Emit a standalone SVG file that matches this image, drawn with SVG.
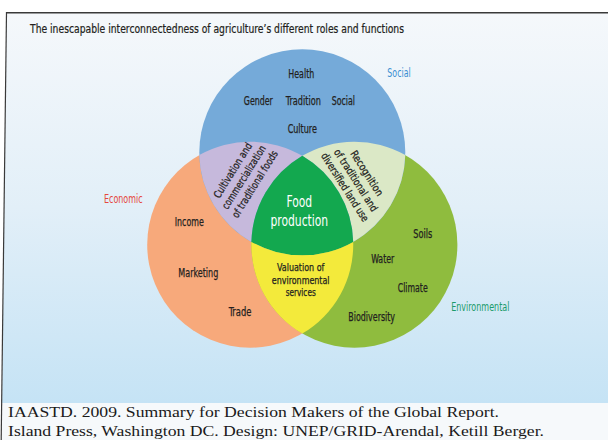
<svg xmlns="http://www.w3.org/2000/svg" width="608" height="440" viewBox="0 0 608 440">
<defs>
<linearGradient id="bg" x1="0" y1="13" x2="0" y2="403" gradientUnits="userSpaceOnUse">
<stop offset="0" stop-color="#f5f8fb"/>
<stop offset="0.5" stop-color="#e2eff8"/>
<stop offset="1" stop-color="#c5e3f5"/>
</linearGradient>
<style>
text{font-family:"Liberation Sans Narrow","DejaVu Sans Condensed","Liberation Sans",Arial,sans-serif;fill:#231f20}
.lbl{font-size:11.5px;text-anchor:middle;stroke:#231f20;stroke-width:0.25}
.mid{font-size:10.5px;text-anchor:middle;stroke:#231f20;stroke-width:0.25}
.rot{font-size:10.5px;text-anchor:middle;stroke:#231f20;stroke-width:0.25}
.key{font-size:11.5px;text-anchor:middle}
.big{font-size:15px;text-anchor:middle;fill:#ffffff}
.cap{font-family:"Liberation Serif","Times New Roman",serif;font-size:15px;fill:#1a1a1a}
.title{font-size:11.5px;stroke:#231f20;stroke-width:0.2}
</style>
</defs>
<rect x="0" y="0" width="608" height="440" fill="#ffffff"/>
<polygon points="6.5,13 608,13 608,403 2,403" fill="url(#bg)"/>
<rect x="1.5" y="403" width="606.5" height="37" fill="#f6f9fb"/>
<line x1="6" y1="12.7" x2="608" y2="12.7" stroke="#3a3a3a" stroke-width="1.4"/>
<line x1="6.5" y1="12" x2="1.2" y2="440" stroke="#3a3a3a" stroke-width="1.2"/>

<text class="title" x="30" y="32.5" textLength="374" lengthAdjust="spacingAndGlyphs">The inescapable interconnectedness of agriculture’s different roles and functions</text>

<g id="economic">
<circle cx="250.2" cy="244.7" r="103" fill="#f7a97b"/>
</g>
<g id="environmental">
<circle cx="354.4" cy="244.7" r="103" fill="#8fbc3e"/>
</g>
<g id="social">
<circle cx="302.3" cy="152.3" r="103" fill="#75aad9"/>
</g>
<g id="cultivation">
<path d="M199.3,155.1 A103,103 0 0 1 302.3,155.85 A103,103 0 0 0 251.4,241.9 A103,103 0 0 1 199.3,155.1 Z" fill="#c6b9dc"/>
</g>
<g id="recognition">
<path d="M405.3,155.1 A103,103 0 0 0 302.3,155.85 A103,103 0 0 1 353.2,241.9 A103,103 0 0 0 405.3,155.1 Z" fill="#dbe8c6"/>
</g>
<g id="food-production">
<path d="M302.3,155.85 A103,103 0 0 1 353.2,241.9 A103,103 0 0 1 251.4,241.9 A103,103 0 0 1 302.3,155.85 Z" fill="#13a84f"/>
</g>
<g id="valuation">
<path d="M251.4,241.9 A103,103 0 0 0 353.2,241.9 A103,103 0 0 1 302.3,333.55 A103,103 0 0 1 251.4,241.9 Z" fill="#f3ea3b"/>
</g>

<g id="labels">
<text class="lbl" x="301.3" y="77.5" textLength="26" lengthAdjust="spacingAndGlyphs">Health</text>
<text class="lbl" x="258.3" y="105" textLength="29" lengthAdjust="spacingAndGlyphs">Gender</text>
<text class="lbl" x="303.3" y="105" textLength="35" lengthAdjust="spacingAndGlyphs">Tradition</text>
<text class="lbl" x="343.3" y="105" textLength="23.3" lengthAdjust="spacingAndGlyphs">Social</text>
<text class="lbl" x="302.3" y="133" textLength="29.3" lengthAdjust="spacingAndGlyphs">Culture</text>
<text class="key" x="399" y="76.7" textLength="23.3" lengthAdjust="spacingAndGlyphs" style="fill:#3a8fd2">Social</text>
<text class="key" x="123.3" y="202.5" textLength="38.7" lengthAdjust="spacingAndGlyphs" style="fill:#e5473d">Economic</text>
<text class="lbl" x="189.3" y="225.7" textLength="29" lengthAdjust="spacingAndGlyphs">Income</text>
<text class="lbl" x="198.3" y="277.3" textLength="40" lengthAdjust="spacingAndGlyphs">Marketing</text>
<text class="lbl" x="240" y="316.3" textLength="22.7" lengthAdjust="spacingAndGlyphs">Trade</text>
<text class="lbl" x="422.7" y="238.3" textLength="19" lengthAdjust="spacingAndGlyphs">Soils</text>
<text class="lbl" x="382.7" y="263.3" textLength="23" lengthAdjust="spacingAndGlyphs">Water</text>
<text class="lbl" x="412.7" y="291.7" textLength="30" lengthAdjust="spacingAndGlyphs">Climate</text>
<text class="lbl" x="371.7" y="321.3" textLength="46.7" lengthAdjust="spacingAndGlyphs">Biodiversity</text>
<text class="key" x="480.3" y="311.3" textLength="58.3" lengthAdjust="spacingAndGlyphs" style="fill:#1c9b6b">Environmental</text>
<text class="big" x="299.3" y="207" textLength="25.7" lengthAdjust="spacingAndGlyphs">Food</text>
<text class="big" x="299.3" y="226" textLength="57.7" lengthAdjust="spacingAndGlyphs">production</text>
<text class="mid" x="300.7" y="271" textLength="47.3" lengthAdjust="spacingAndGlyphs">Valuation of</text>
<text class="mid" x="300.7" y="283.5" textLength="57.7" lengthAdjust="spacingAndGlyphs">environmental</text>
<text class="mid" x="300.7" y="296" textLength="30" lengthAdjust="spacingAndGlyphs">services</text>
<g transform="translate(243.5,177) rotate(-58)">
<text class="rot" x="0" y="-9" textLength="63" lengthAdjust="spacingAndGlyphs">Cultivation and</text>
<text class="rot" x="0" y="4" textLength="73" lengthAdjust="spacingAndGlyphs">commercialization</text>
<text class="rot" x="0" y="17" textLength="77" lengthAdjust="spacingAndGlyphs">of traditional foods</text>
</g>
<g transform="translate(356.2,180) rotate(57.5)">
<text class="rot" x="0" y="-9" textLength="51.5" lengthAdjust="spacingAndGlyphs">Recognition</text>
<text class="rot" x="0" y="4" textLength="71.6" lengthAdjust="spacingAndGlyphs">of traditional and</text>
<text class="rot" x="0" y="17" textLength="79" lengthAdjust="spacingAndGlyphs">diversified land use</text>
</g>
</g>

<text class="cap" x="8" y="417" textLength="491" lengthAdjust="spacingAndGlyphs">IAASTD. 2009. Summary for Decision Makers of the Global Report.</text>
<text class="cap" x="8" y="436" textLength="536" lengthAdjust="spacingAndGlyphs">Island Press, Washington DC. Design: UNEP/GRID-Arendal, Ketill Berger.</text>
</svg>
